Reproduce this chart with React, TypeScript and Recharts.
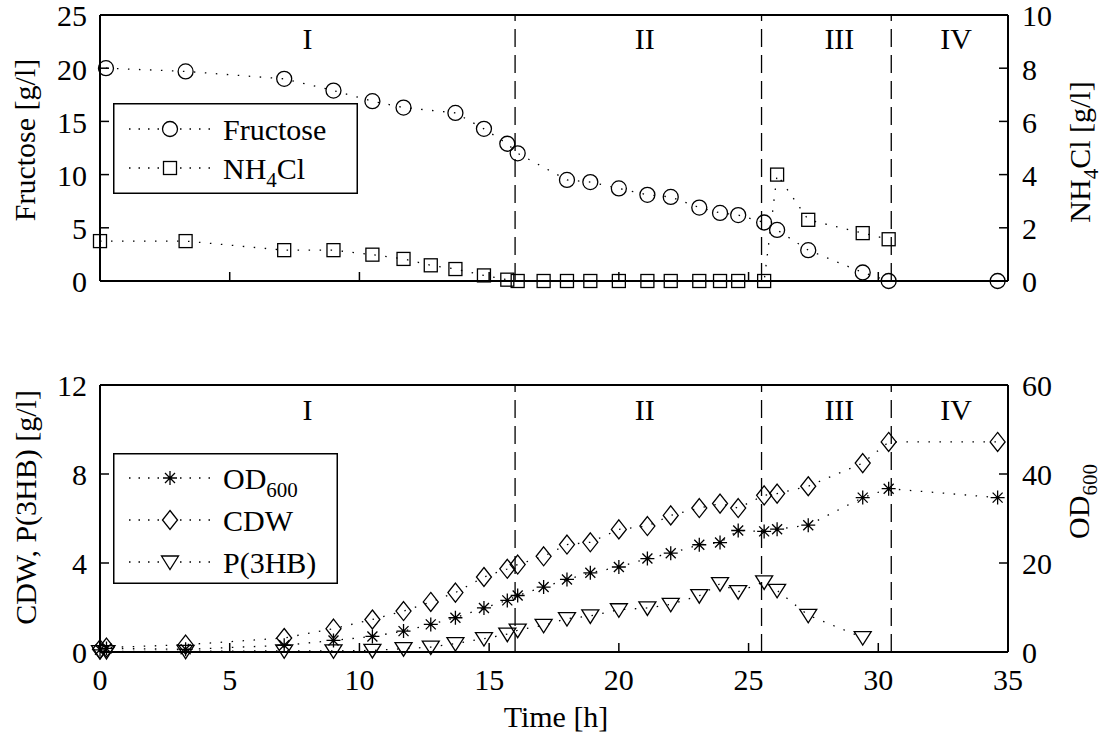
import React from "react";
import {
  ComposedChart,
  Line,
  XAxis,
  YAxis,
  ReferenceLine,
  ReferenceDot,
  Legend,
} from "recharts";

const FONT = "'Liberation Serif', 'DejaVu Serif', serif";
const FS = 30;

// time axis + fermentation phases
const timeTicks = [0, 5, 10, 15, 20, 25, 30, 35];
const phaseBounds = [16, 25.5, 30.5];
const phaseNames = ["I", "II", "III", "IV"];
const phaseMid = [8, 21, 28.5, 33];

// top panel: substrates
const fructoseTime = [0.23, 3.3, 7.1, 9.0, 10.5, 11.7, 13.7, 14.8, 15.7, 16.1, 18.0, 18.9, 20.0, 21.1, 22.0, 23.1, 23.9, 24.6, 25.6, 26.1, 27.3, 29.4, 30.4, 34.6];
const fructose = [20.0, 19.7, 19.0, 17.9, 16.9, 16.3, 15.8, 14.3, 12.9, 12.0, 9.5, 9.3, 8.7, 8.1, 7.9, 6.9, 6.4, 6.2, 5.5, 4.8, 2.9, 0.8, 0, 0];
const nh4clTime = [0, 3.3, 7.1, 9.0, 10.5, 11.7, 12.75, 13.7, 14.8, 15.7, 16.1, 17.1, 18.0, 18.9, 20.0, 21.1, 22.0, 23.1, 23.9, 24.6, 25.6, 26.1, 27.3, 29.4, 30.4];
const nh4cl = [1.5, 1.5, 1.16, 1.16, 0.99, 0.83, 0.59, 0.45, 0.21, 0.05, 0, 0, 0, 0, 0, 0, 0, 0, 0, 0, 0, 4.0, 2.3, 1.8, 1.57];

// bottom panel: growth + product
const growthTime = [0, 0.25, 3.3, 7.1, 9.0, 10.5, 11.7, 12.75, 13.7, 14.8, 15.7, 16.1, 17.1, 18.0, 18.9, 20.0, 21.1, 22.0, 23.1, 23.9, 24.6, 25.6, 26.1, 27.3, 29.4, 30.4, 34.6];
const od600 = [0.5, 0.8, 0.6, 1.5, 2.6, 3.5, 4.7, 6.2, 7.7, 9.9, 11.6, 12.7, 14.6, 16.3, 17.8, 19.1, 21.0, 22.2, 24.1, 24.6, 27.3, 27.1, 27.6, 28.5, 34.7, 36.7, 34.7];
const cdw = [0.12, 0.2, 0.33, 0.63, 1.05, 1.46, 1.84, 2.25, 2.67, 3.37, 3.74, 3.93, 4.3, 4.83, 4.93, 5.51, 5.66, 6.14, 6.47, 6.67, 6.47, 7.04, 7.12, 7.45, 8.49, 9.44, 9.44];
const p3hb = [0.02, 0.02, 0.03, 0.05, 0.05, 0.07, 0.15, 0.22, 0.38, 0.6, 0.8, 0.98, 1.2, 1.5, 1.62, 1.9, 1.98, 2.14, 2.53, 3.07, 2.71, 3.15, 2.77, 1.65, 0.65, null, null];

const pts = (ts: number[], vs: (number | null)[]) =>
  ts.map((t, i) => ({ t, v: vs[i] })).filter((p) => p.v !== null);

type Shape = "circle" | "square" | "diamond" | "triangle" | "star";

const MARK = { stroke: "#000", strokeWidth: 1.3, fill: "none" };
const DOTTED = "1.5 9.5";
const TICK_LEN = 9;

function Marker({ shape, cx, cy }: { shape: Shape; cx: number; cy: number }) {
  switch (shape) {
    case "circle":
      return <circle cx={cx} cy={cy} r={7.5} {...MARK} />;
    case "square":
      return <rect x={cx - 6.5} y={cy - 6.5} width={13} height={13} {...MARK} />;
    case "diamond":
      return (
        <polygon
          points={`${cx},${cy - 9.5} ${cx + 7.5},${cy} ${cx},${cy + 9.5} ${cx - 7.5},${cy}`}
          {...MARK}
        />
      );
    case "triangle":
      return (
        <polygon points={`${cx - 8.5},${cy - 6} ${cx + 8.5},${cy - 6} ${cx},${cy + 7.5}`} {...MARK} />
      );
    default: {
      const d = 5;
      return (
        <path
          d={`M${cx - 7},${cy}H${cx + 7}M${cx},${cy - 7}V${cy + 7}M${cx - d},${cy - d}L${cx + d},${cy + d}M${cx - d},${cy + d}L${cx + d},${cy - d}`}
          {...MARK}
        />
      );
    }
  }
}

const dotFor = (shape: Shape) => (p: any) =>
  <Marker key={`${shape}-${p.index}`} shape={shape} cx={p.cx} cy={p.cy} />;

// inward-pointing ticks (matlab style), label optional
// margin = tickMargin of the axis, so the axis line sits at label pos -/+ margin
const makeTick =
  (side: "left" | "right" | "top" | "bottom", margin: number, showLabel: boolean) =>
  (p: any) => {
    const { x, y, payload } = p;
    const tl = { stroke: "#000", strokeWidth: 1.5 };
    const txt = { fill: "#000", fontSize: FS, fontFamily: FONT };
    if (side === "left") {
      const ax = x + margin;
      return (
        <g>
          <line x1={ax} x2={ax + TICK_LEN} y1={y} y2={y} {...tl} />
          {showLabel && <text x={x} y={y} dy="0.38em" textAnchor="end" {...txt}>{payload.value}</text>}
        </g>
      );
    }
    if (side === "right") {
      const ax = x - margin;
      return (
        <g>
          <line x1={ax} x2={ax - TICK_LEN} y1={y} y2={y} {...tl} />
          {showLabel && <text x={x} y={y} dy="0.38em" textAnchor="start" {...txt}>{payload.value}</text>}
        </g>
      );
    }
    if (side === "top") {
      const ay = y + margin;
      return <line x1={x} x2={x} y1={ay} y2={ay + TICK_LEN} {...tl} />;
    }
    const ay = y - margin;
    return (
      <g>
        <line x1={x} x2={x} y1={ay} y2={ay - TICK_LEN} {...tl} />
        {showLabel && <text x={x} y={y} dy="0.7em" textAnchor="middle" {...txt}>{payload.value}</text>}
      </g>
    );
  };

// text with a subscript part, e.g. NH4Cl, OD600
function SubText({ base, sub, rest }: { base: string; sub: string; rest?: string }) {
  return (
    <>
      <tspan>{base}</tspan>
      <tspan dy={8} fontSize={21}>{sub}</tspan>
      {rest ? <tspan dy={-8}>{rest}</tspan> : null}
    </>
  );
}

type LegendItem = { label: React.ReactNode; shape: Shape; y: number };

const topLegend: LegendItem[] = [
  { label: "Fructose", shape: "circle", y: 26 },
  { label: <SubText base="NH" sub="4" rest="Cl" />, shape: "square", y: 65 },
];
const bottomLegend: LegendItem[] = [
  { label: <SubText base="OD" sub="600" />, shape: "star", y: 25 },
  { label: "CDW", shape: "diamond", y: 67 },
  { label: "P(3HB)", shape: "triangle", y: 109 },
];

function LegendBox({ items, w, h }: { items: LegendItem[]; w: number; h: number }) {
  return (
    <svg width={w} height={h} style={{ display: "block" }}>
      <rect x={0.75} y={0.75} width={w - 1.5} height={h - 1.5} fill="#fff" stroke="#000" strokeWidth={1.5} />
      {items.map((it, i) => (
        <g key={i}>
          <line x1={16} x2={47} y1={it.y} y2={it.y} stroke="#000" strokeWidth={1.3} strokeDasharray="1.5 8" />
          <line x1={67} x2={98} y1={it.y} y2={it.y} stroke="#000" strokeWidth={1.3} strokeDasharray="1.5 8" />
          <Marker shape={it.shape} cx={57} cy={it.y} />
          <text x={110} y={it.y + 11} fontSize={FS} fontFamily={FONT} fill="#000">
            {it.label}
          </text>
        </g>
      ))}
    </svg>
  );
}

function VTitle({ cx, cy, children }: { cx: number; cy: number; children: React.ReactNode }) {
  return (
    <text
      x={cx}
      y={cy}
      transform={`rotate(-90 ${cx} ${cy})`}
      textAnchor="middle"
      dy="0.35em"
      fontSize={FS}
      fontFamily={FONT}
      fill="#000"
    >
      {children}
    </text>
  );
}

const AX = { stroke: "#000", strokeWidth: 2 };

const lineProps = {
  type: "linear" as const,
  dataKey: "v",
  stroke: "#000",
  strokeWidth: 1.3,
  strokeDasharray: DOTTED,
  isAnimationActive: false,
  activeDot: false,
  legendType: "none" as const,
  xAxisId: "b",
};

function phaseMarks(labelY: number) {
  return [
    ...phaseBounds.map((b) => (
      <ReferenceLine
        key={`pb-${b}`}
        xAxisId="b"
        yAxisId="L"
        x={b}
        stroke="#000"
        strokeWidth={1.3}
        strokeDasharray="18 8"
      />
    )),
    ...phaseNames.map((n, i) => (
      <ReferenceDot
        key={`pn-${n}`}
        xAxisId="b"
        yAxisId="L"
        x={phaseMid[i]}
        y={labelY}
        r={0}
        fill="none"
        stroke="none"
        label={{ value: n, position: "center", fill: "#000", fontSize: FS, fontFamily: FONT }}
      />
    )),
  ];
}

// axes need a non-zero height, otherwise recharts drops the ticks
function timeAxes(bottomHeight: number, withLabels: boolean) {
  const bMargin = withLabels ? 17 : 0;
  return [
    <XAxis
      key="xb"
      xAxisId="b"
      type="number"
      dataKey="t"
      domain={[0, 35]}
      ticks={timeTicks}
      height={bottomHeight}
      tick={makeTick("bottom", bMargin, withLabels)}
      tickSize={0}
      tickMargin={bMargin}
      axisLine={AX}
      tickLine={false}
      interval={0}
      label={
        withLabels
          ? {
              content: (p: any) => {
                const vb = p.viewBox || { x: 100, y: 652, width: 908 };
                return (
                  <text x={vb.x + vb.width / 2 + 2} y={vb.y + 75} textAnchor="middle" fontSize={FS} fontFamily={FONT} fill="#000">
                    Time [h]
                  </text>
                );
              },
            }
          : undefined
      }
    />,
    <XAxis
      key="xt"
      xAxisId="t"
      orientation="top"
      type="number"
      domain={[0, 35]}
      ticks={timeTicks}
      height={1}
      tick={makeTick("top", 0, false)}
      tickSize={0}
      tickMargin={0}
      axisLine={AX}
      tickLine={false}
      interval={0}
    />,
  ];
}

function yAxes(
  left: { domain: number[]; ticks: number[]; title: (vb: any) => React.ReactNode },
  right: { domain: number[]; ticks: number[]; title: (vb: any) => React.ReactNode }
) {
  return [
    <YAxis
      key="yl"
      yAxisId="L"
      domain={left.domain}
      ticks={left.ticks}
      width={60}
      tickSize={0}
      tickMargin={13}
      tick={makeTick("left", 13, true)}
      axisLine={AX}
      tickLine={false}
      interval={0}
      label={{ content: (p: any) => left.title(p.viewBox) }}
    />,
    <YAxis
      key="yr"
      yAxisId="R"
      orientation="right"
      domain={right.domain}
      ticks={right.ticks}
      width={60}
      tickSize={0}
      tickMargin={14}
      tick={makeTick("right", 14, true)}
      axisLine={AX}
      tickLine={false}
      interval={0}
      label={{ content: (p: any) => right.title(p.viewBox) }}
    />,
  ];
}

export default function App() {
  return (
    <div style={{ position: "absolute", left: 0, top: 0, width: 1107, height: 738, background: "#fff" }}>
      <div style={{ position: "absolute", left: 0, top: 0 }}>
        <ComposedChart width={1107} height={738} margin={{ top: 14, right: 39, bottom: 456, left: 40 }}>
          {timeAxes(1, false)}
          {yAxes(
            {
              domain: [0, 25],
              ticks: [0, 5, 10, 15, 20, 25],
              title: (vb = { x: 40, y: 15, height: 266 }) => (
                <VTitle cx={vb.x - 16} cy={vb.y + vb.height / 2 - 8}>Fructose [g/l]</VTitle>
              ),
            },
            {
              domain: [0, 10],
              ticks: [0, 2, 4, 6, 8, 10],
              title: (vb = { x: 1008, y: 15, height: 266 }) => (
                <VTitle cx={vb.x + 71} cy={vb.y + vb.height / 2 + 4}>
                  <SubText base="NH" sub="4" rest="Cl [g/l]" />
                </VTitle>
              ),
            }
          )}
          {phaseMarks(22.8)}
          <Line {...lineProps} yAxisId="L" data={pts(fructoseTime, fructose)} dot={dotFor("circle")} />
          <Line {...lineProps} yAxisId="R" data={pts(nh4clTime, nh4cl)} dot={dotFor("square")} />
          <Legend
            layout="vertical"
            align="center"
            verticalAlign="middle"
            wrapperStyle={{ left: 113, top: 103, width: 245, height: 91, right: "auto", bottom: "auto" }}
            content={() => <LegendBox items={topLegend} w={245} h={91} />}
          />
        </ComposedChart>
      </div>

      <div style={{ position: "absolute", left: 0, top: 0 }}>
        <ComposedChart width={1107} height={738} margin={{ top: 384, right: 39, bottom: 26, left: 40 }}>
          {timeAxes(60, true)}
          {yAxes(
            {
              domain: [0, 12],
              ticks: [0, 4, 8, 12],
              title: (vb = { x: 40, y: 385, height: 267 }) => (
                <VTitle cx={vb.x - 15} cy={vb.y + vb.height / 2 - 11}>CDW, P(3HB) [g/l]</VTitle>
              ),
            },
            {
              domain: [0, 60],
              ticks: [0, 20, 40, 60],
              title: (vb = { x: 1008, y: 385, height: 267 }) => (
                <VTitle cx={vb.x + 70} cy={vb.y + vb.height / 2 - 17}>
                  <SubText base="OD" sub="600" />
                </VTitle>
              ),
            }
          )}
          {phaseMarks(10.9)}
          <Line {...lineProps} yAxisId="R" data={pts(growthTime, od600)} dot={dotFor("star")} />
          <Line {...lineProps} yAxisId="L" data={pts(growthTime, cdw)} dot={dotFor("diamond")} />
          <Line {...lineProps} yAxisId="L" data={pts(growthTime, p3hb)} dot={dotFor("triangle")} />
          <Legend
            layout="vertical"
            align="center"
            verticalAlign="middle"
            wrapperStyle={{ left: 113, top: 453, width: 225, height: 131, right: "auto", bottom: "auto" }}
            content={() => <LegendBox items={bottomLegend} w={225} h={131} />}
          />
        </ComposedChart>
      </div>
    </div>
  );
}
